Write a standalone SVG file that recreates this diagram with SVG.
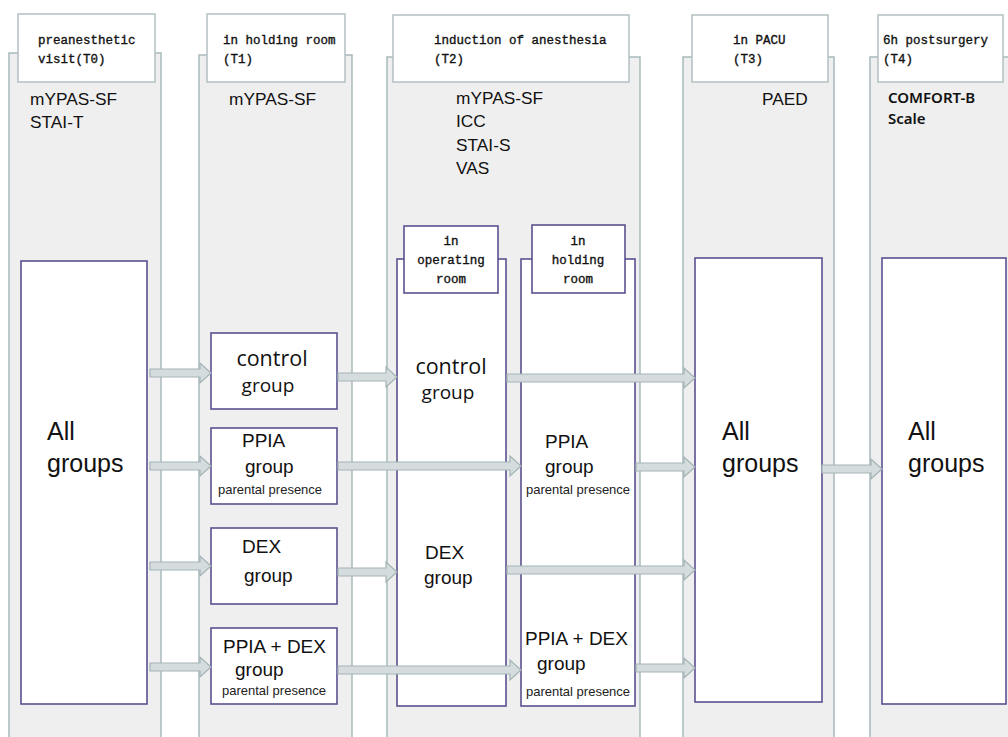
<svg xmlns="http://www.w3.org/2000/svg" width="1008" height="737" viewBox="0 0 1008 737">
<style>
.col{fill:#efefef;stroke:#a9babc;stroke-width:1.5}
.hdr{fill:#ffffff;stroke:#b3c0c3;stroke-width:1.5}
.box{fill:#ffffff;stroke:#5b5190;stroke-width:1.6}
.arr{fill:#d5dcdd;stroke:#a3b3b5;stroke-width:1.2}
.ht{font-family:"Liberation Mono",monospace;font-size:12.5px;fill:#111;stroke:#111;stroke-width:0.35}
.ms{font-family:"Liberation Sans",Arial,sans-serif;font-size:17.3px;fill:#111}
.big{font-family:"Liberation Sans",Arial,sans-serif;font-size:25px;fill:#111}
.seg{font-family:"Open Sans",sans-serif;fill:#111}
.grp{font-family:"Liberation Sans",Arial,sans-serif;font-size:19px;fill:#111}
.sm{font-family:"Liberation Sans",Arial,sans-serif;font-size:13px;fill:#222}
.cb{font-family:"Noto Sans",sans-serif;font-size:15px;font-weight:600;fill:#111}
</style>
<rect width="1008" height="737" fill="#ffffff"/>

<g id="col-T0">
<rect class="col" x="9" y="53" width="152" height="700"/>
<rect class="hdr" x="18" y="14" width="137" height="68"/>
<text class="ht" x="38" y="44">preanesthetic</text>
<text class="ht" x="38" y="63">visit(T0)</text>
<text class="ms" x="30" y="105">mYPAS-SF</text>
<text class="ms" x="30" y="128">STAI-T</text>
</g>

<g id="col-T1">
<rect class="col" x="199" y="55" width="153" height="700"/>
<rect class="hdr" x="207" y="14" width="138" height="68"/>
<text class="ht" x="223" y="44">in holding room</text>
<text class="ht" x="223" y="63">(T1)</text>
<text class="ms" x="229" y="105">mYPAS-SF</text>
</g>

<g id="col-T2">
<rect class="col" x="387" y="57" width="253" height="700"/>
<rect class="hdr" x="393" y="15" width="236" height="67"/>
<text class="ht" x="434" y="44">induction of anesthesia</text>
<text class="ht" x="434" y="63">(T2)</text>
<text class="ms" x="456" y="104">mYPAS-SF</text>
<text class="ms" x="456" y="127">ICC</text>
<text class="ms" x="456" y="151">STAI-S</text>
<text class="ms" x="456" y="174">VAS</text>
</g>

<g id="col-T3">
<rect class="col" x="683" y="57" width="151" height="700"/>
<rect class="hdr" x="692" y="15" width="136" height="67"/>
<text class="ht" x="733" y="44">in PACU</text>
<text class="ht" x="733" y="63">(T3)</text>
<text class="ms" x="762" y="105">PAED</text>
</g>

<g id="col-T4">
<rect class="col" x="870" y="57" width="150" height="700"/>
<rect class="hdr" x="878" y="15" width="125" height="67"/>
<text class="ht" x="883" y="44">6h postsurgery</text>
<text class="ht" x="883" y="63">(T4)</text>
<text class="cb" x="888" y="103">COMFORT-B</text>
<text class="cb" x="888" y="124">Scale</text>
</g>

<g id="all-T0">
<rect class="box" x="21" y="261" width="126" height="443"/>
<text class="big" x="47" y="440">All</text>
<text class="big" x="47" y="472">groups</text>
</g>

<g id="t1-control">
<rect class="box" x="211" y="333" width="126" height="76"/>
<text class="seg" x="272" y="366" font-size="21.5" text-anchor="middle">control</text>
<text class="seg" x="268" y="392" font-size="19" text-anchor="middle">group</text>
</g>
<g id="t1-ppia">
<rect class="box" x="211" y="428" width="126" height="76"/>
<text class="grp" x="242" y="447">PPIA</text>
<text class="grp" x="245" y="473" font-size="20">group</text>
<text class="sm" x="218" y="494">parental presence</text>
</g>
<g id="t1-dex">
<rect class="box" x="211" y="528" width="126" height="76"/>
<text class="grp" x="242" y="553">DEX</text>
<text class="grp" x="244" y="582" font-size="20">group</text>
</g>
<g id="t1-ppiadex">
<rect class="box" x="211" y="628" width="126" height="76"/>
<text class="grp" x="223" y="653" font-size="20.5">PPIA + DEX</text>
<text class="grp" x="235" y="676" font-size="20">group</text>
<text class="sm" x="222" y="695">parental presence</text>
</g>

<g id="t2-operating">
<rect class="box" x="397" y="259" width="109" height="447"/>
<rect class="box" x="404" y="226" width="94" height="67"/>
<text class="ht" x="451" y="245" text-anchor="middle">in</text>
<text class="ht" x="451" y="264" text-anchor="middle">operating</text>
<text class="ht" x="451" y="283" text-anchor="middle">room</text>
<text class="seg" x="451" y="374" font-size="21.5" text-anchor="middle">control</text>
<text class="seg" x="448" y="399" font-size="19" text-anchor="middle">group</text>
<text class="grp" x="425" y="559">DEX</text>
<text class="grp" x="424" y="584" font-size="20">group</text>
</g>

<g id="t2-holding">
<rect class="box" x="521" y="259" width="114" height="447"/>
<rect class="box" x="532" y="225" width="93" height="68"/>
<text class="ht" x="578" y="245" text-anchor="middle">in</text>
<text class="ht" x="578" y="264" text-anchor="middle">holding</text>
<text class="ht" x="578" y="283" text-anchor="middle">room</text>
<text class="grp" x="545" y="448">PPIA</text>
<text class="grp" x="545" y="473" font-size="20">group</text>
<text class="sm" x="526" y="494">parental presence</text>
<text class="grp" x="525" y="645" font-size="20.5">PPIA + DEX</text>
<text class="grp" x="537" y="670" font-size="20">group</text>
<text class="sm" x="526" y="696">parental presence</text>
</g>

<g id="all-T3">
<rect class="box" x="695" y="258" width="127" height="444"/>
<text class="big" x="722" y="440">All</text>
<text class="big" x="722" y="472">groups</text>
</g>

<g id="all-T4">
<rect class="box" x="882" y="258" width="124" height="446"/>
<text class="big" x="908" y="440">All</text>
<text class="big" x="908" y="472">groups</text>
</g>

<g id="connectors">
<polygon class="arr" points="150,369 200,369 200,363 211,373 200,383 200,377 150,377"/>
<polygon class="arr" points="338,373 386,373 386,367 397,377 386,387 386,381 338,381"/>
<polygon class="arr" points="507,374 684,374 684,368 695,378 684,388 684,382 507,382"/>
<polygon class="arr" points="150,462 200,462 200,456 211,466 200,476 200,470 150,470"/>
<polygon class="arr" points="338,462 510,462 510,456 521,466 510,476 510,470 338,470"/>
<polygon class="arr" points="636,463 684,463 684,457 695,467 684,477 684,471 636,471"/>
<polygon class="arr" points="150,562 200,562 200,556 211,566 200,576 200,570 150,570"/>
<polygon class="arr" points="338,568 386,568 386,562 397,572 386,582 386,576 338,576"/>
<polygon class="arr" points="507,566 684,566 684,560 695,570 684,580 684,574 507,574"/>
<polygon class="arr" points="150,663 200,663 200,657 211,667 200,677 200,671 150,671"/>
<polygon class="arr" points="338,666 510,666 510,660 521,670 510,680 510,674 338,674"/>
<polygon class="arr" points="636,664 684,664 684,658 695,668 684,678 684,672 636,672"/>
<polygon class="arr" points="822,465 871,465 871,459 882,469 871,479 871,473 822,473"/>
</g>
</svg>
